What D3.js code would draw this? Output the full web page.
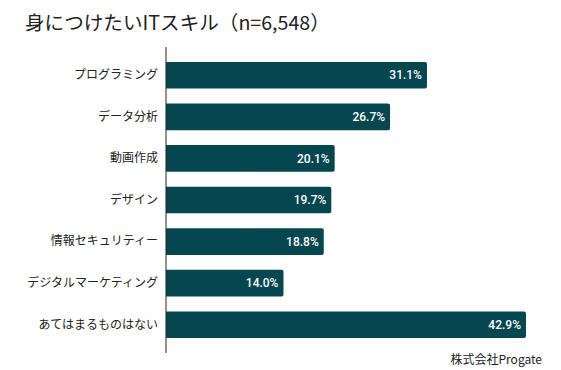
<!DOCTYPE html>
<meta charset="utf-8">
<style>
  body { margin: 0; background: #fff; }
  text { font-family: "Noto Sans CJK JP", sans-serif; fill: #222; }
  .value { font-family: Roboto, sans-serif; font-weight: 500; fill: #fff; font-size: 12px; }
</style>
<svg id="chart" width="561" height="370"></svg>
<script src="https://cdnjs.cloudflare.com/ajax/libs/d3/7.8.5/d3.min.js"></script>
<script>
// data
var skills = ["プログラミング", "データ分析", "動画作成", "デザイン", "情報セキュリティー", "デジタルマーケティング", "あてはまるものはない"];
var shares = [31.1, 26.7, 20.1, 19.7, 18.8, 14.0, 42.9];
var title = "身につけたいITスキル（n=6,548）";
var source = "株式会社Progate";

var svg = d3.select("#chart");
var plotLeft = 166, plotTop = 47, plotBottom = 353;

var x = d3.scaleLinear().domain([0, 42.9]).range([plotLeft, 526]);
var y = d3.scaleBand().domain(skills).range([plotTop, plotBottom]).paddingInner(0.36).paddingOuter(0.36);

svg.append("text")
  .attr("x", 25).attr("y", 30)
  .style("font-size", "19.6px")
  .style("font-weight", 400)
  .text(title);

// bars with slightly rounded right end
var r = 2;
svg.selectAll(".bar")
  .data(skills)
  .enter().append("path")
  .attr("class", "bar")
  .attr("fill", "#05464f")
  .attr("d", function(d, i) {
    var x0 = x(0), x1 = x(shares[i]), y0 = y(d), h = y.bandwidth();
    return "M" + x0 + "," + y0 + "H" + (x1 - r) + "Q" + x1 + "," + y0 + " " + x1 + "," + (y0 + r) +
      "V" + (y0 + h - r) + "Q" + x1 + "," + (y0 + h) + " " + (x1 - r) + "," + (y0 + h) + "H" + x0 + "Z";
  });

svg.selectAll(".value")
  .data(skills)
  .enter().append("text")
  .attr("class", "value")
  .attr("x", function(d, i) { return x(shares[i]) - 5; })
  .attr("y", function(d) { return y(d) + y.bandwidth() / 2; })
  .attr("dy", "0.35em")
  .attr("text-anchor", "end")
  .text(function(d, i) { return shares[i].toFixed(1) + "%"; });

var axis = svg.append("g")
  .attr("transform", "translate(" + plotLeft + ",0)")
  .call(d3.axisLeft(y).tickSize(0).tickPadding(8));
axis.select(".domain").attr("stroke", "#222").attr("d", "M0," + plotTop + "V" + plotBottom);
axis.selectAll("text").style("font-size", "12px").style("font-family", "'Noto Sans CJK JP', sans-serif").attr("fill", "#222");

svg.append("text")
  .attr("x", 542).attr("y", 364)
  .attr("text-anchor", "end")
  .style("font-size", "12px")
  .text(source);
</script>
